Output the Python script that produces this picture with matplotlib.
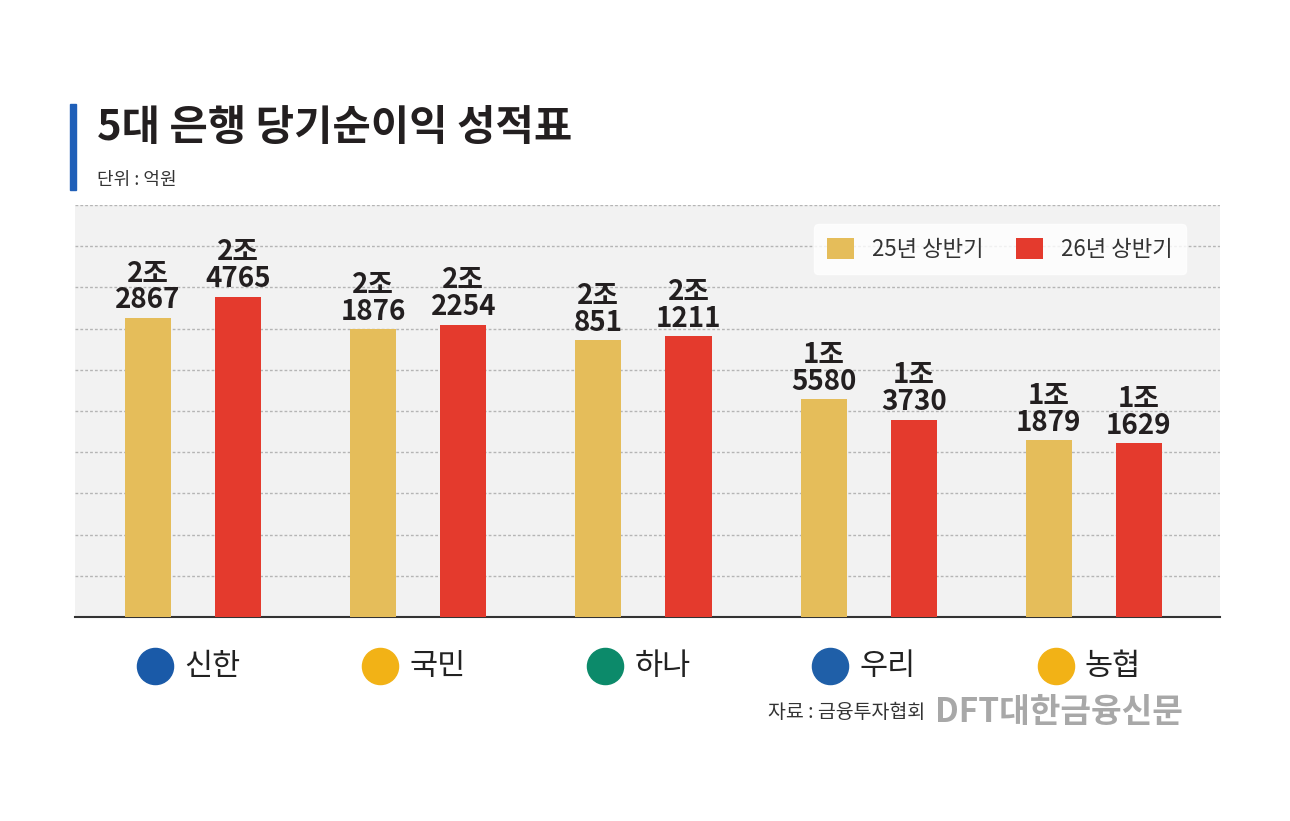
import numpy as np
import matplotlib.pyplot as plt

plt.rcParams['font.family'] = ['Noto Sans CJK KR', 'DejaVu Sans']

banks = ['신한', '국민', '하나', '우리', '농협']
h1_25 = [22867, 21876, 20851, 15580, 11879]
h1_26 = [24765, 22254, 21211, 13730, 11629]
series = ['25년 상반기', '26년 상반기']
logo_colors = ['#1a5aa8', '#f2b216', '#0c8a6a', '#1f5fa8', '#f2b216']

W, H = 1290, 821
fig = plt.figure(figsize=(W / 100, H / 100), dpi=100, facecolor='white')
ax = fig.add_axes([75 / W, 1 - 617 / H, 1145 / W, 412 / H])
ax.set_facecolor('#f2f2f2')

ybot, ytop = -4000, 33000
x = np.arange(len(banks))
bw = 0.205
c1, c2 = '#e5bd5a', '#e43a2d'
ax.bar(x - 0.2, np.array(h1_25) - ybot, bw, bottom=ybot, color=c1, label=series[0], zorder=3)
ax.bar(x + 0.2, np.array(h1_26) - ybot, bw, bottom=ybot, color=c2, label=series[1], zorder=3)

def fmt(v):
    return f'{v // 10000}조\n{v % 10000}'

for xi, v1, v2 in zip(x, h1_25, h1_26):
    for xx, v in ((xi - 0.2, v1), (xi + 0.2, v2)):
        ax.text(xx, v + 300, fmt(v), ha='center', va='bottom', fontsize=20,
                fontweight='bold', color='#231f20', linespacing=0.95, zorder=4)

ax.set_xlim(-0.524, 4.56)
ax.set_ylim(ybot, ytop)
for g in np.linspace(ybot, ytop, 11)[1:]:
    ax.axhline(g, color='#b5b5b5', lw=1, ls=(0, (2, 1.5)), zorder=1)
for s in ['top', 'right', 'left']:
    ax.spines[s].set_visible(False)
ax.spines['bottom'].set_color('#333333')
ax.spines['bottom'].set_linewidth(1.5)
ax.set_yticks([])
ax.set_xticks(x)
ax.set_xticklabels([])
ax.tick_params(axis='x', length=0)

for xi, b, c in zip(x, banks, logo_colors):
    ax.plot(xi - 0.17, -0.12, marker='o', ms=26, color=c, transform=ax.get_xaxis_transform(),
            clip_on=False)
    ax.text(xi - 0.04, -0.12, b, transform=ax.get_xaxis_transform(), ha='left', va='center',
            fontsize=22, color='#222222')

leg = ax.legend(loc='upper right', bbox_to_anchor=(0.98, 0.98), ncol=2, frameon=True,
                fontsize=16, handlelength=1.2, handleheight=1.1, columnspacing=1.5,
                borderpad=0.6, fancybox=True)
leg.get_frame().set_facecolor('white')
leg.get_frame().set_edgecolor('white')
for t in leg.get_texts():
    t.set_color('#333333')

fig.patches.append(plt.Rectangle((70 / W, 1 - 190 / H), 6 / W, 86 / H, transform=fig.transFigure,
                                 color='#1f5fb8'))
fig.text(97 / W, 1 - 128 / H, '5대 은행 당기순이익 성적표', fontsize=30, fontweight='bold',
         color='#231f20', va='center')
fig.text(97 / W, 1 - 180 / H, '단위 : 억원', fontsize=13, color='#333333', va='center')
fig.text(925 / W, 1 - 712 / H, '자료 : 금융투자협회', fontsize=14, color='#333333', va='center',
         ha='right')
fig.text(935 / W, 1 - 712 / H, 'DFT대한금융신문', fontsize=24, fontweight='bold', color='#a8a8a8',
         va='center', ha='left')

fig.savefig('out.png', dpi=100, facecolor='white')
